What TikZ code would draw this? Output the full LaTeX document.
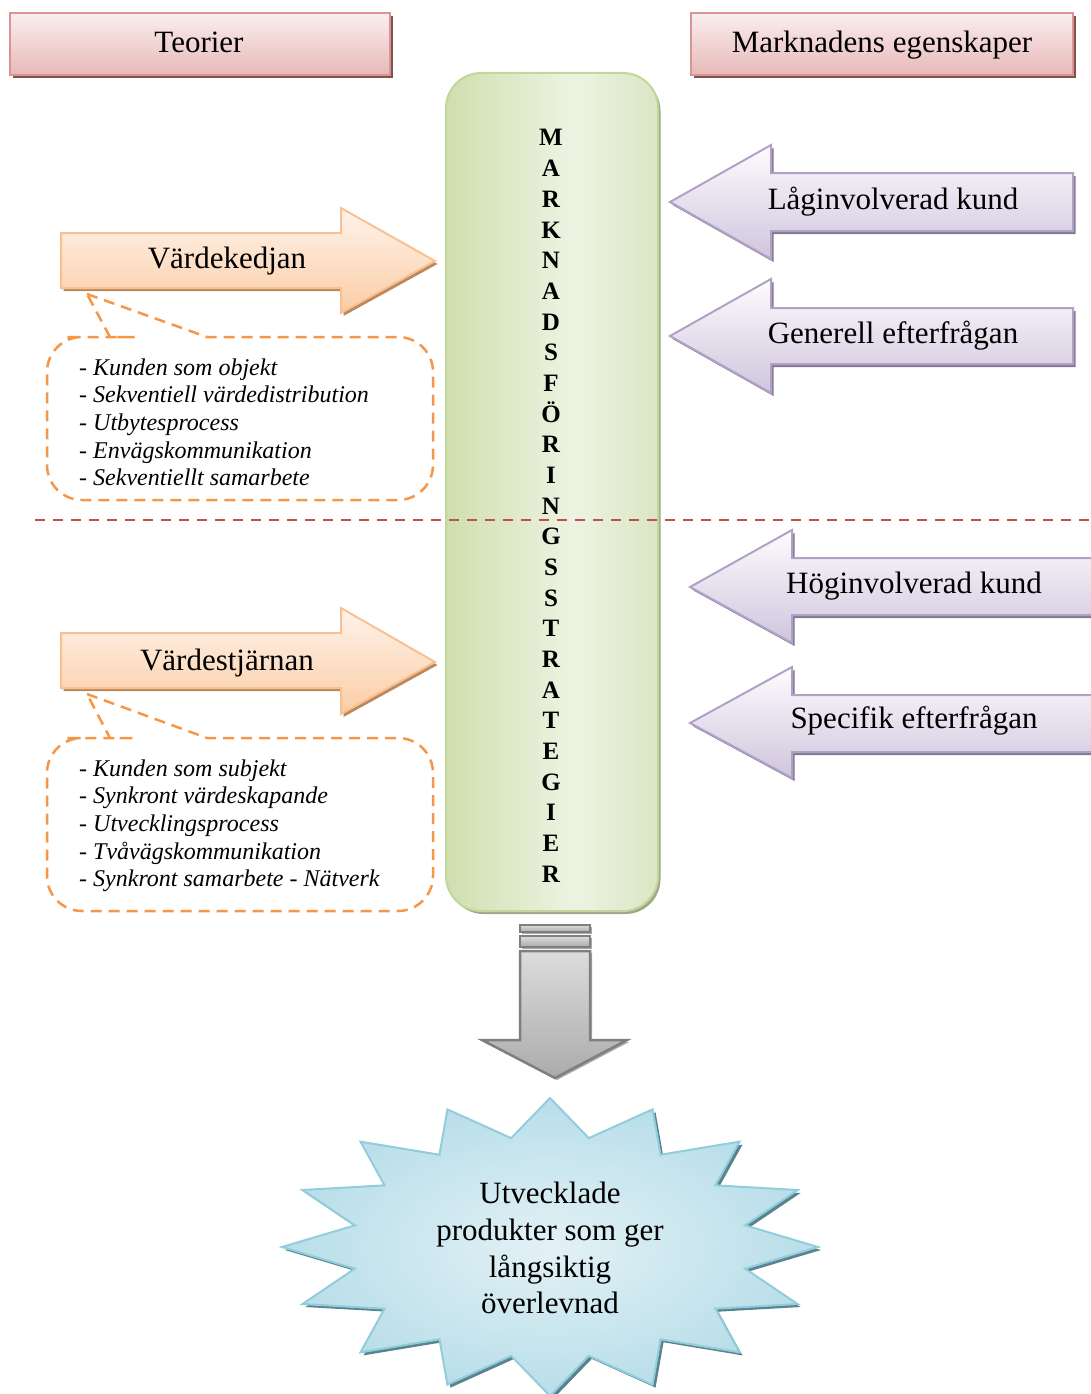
\documentclass[tikz,border=0pt]{standalone}
\usepackage{fontspec}
\setmainfont{Liberation Serif}
\usetikzlibrary{shadows}

\definecolor{pinkline}{HTML}{D99594}
\definecolor{pinktop}{HTML}{FBEEEE}
\definecolor{pinkbot}{HTML}{E6B9B8}
\definecolor{pinkshadow}{HTML}{632523}
\definecolor{orangeline}{HTML}{FAC090}
\definecolor{orangetop}{HTML}{FEF3EA}
\definecolor{orangebot}{HTML}{FBCDA6}
\definecolor{orangeshadow}{HTML}{984807}
\definecolor{purpleline}{HTML}{B2A1C7}
\definecolor{purpletop}{HTML}{FDFCFE}
\definecolor{purplebot}{HTML}{CFC5DD}
\definecolor{purpleshadow}{HTML}{3F3151}
\definecolor{greenline}{HTML}{C3D69B}
\definecolor{greenA}{HTML}{CFDFAF}
\definecolor{greenB}{HTML}{EDF3E2}
\definecolor{greenC}{HTML}{DAE6C3}
\definecolor{greenshadow}{HTML}{4F6228}
\definecolor{dividerred}{HTML}{C0504D}
\definecolor{calloutorange}{HTML}{F79646}
\definecolor{grayline}{HTML}{7F7F7F}
\definecolor{graytop}{HTML}{DCDCDC}
\definecolor{graybot}{HTML}{ABABAB}
\definecolor{grayshadow}{HTML}{404040}
\definecolor{starline}{HTML}{92CDDC}
\definecolor{starinner}{HTML}{E3F1F6}
\definecolor{starouter}{HTML}{B8DEE9}
\definecolor{starshadow}{HTML}{215968}

% left-to-right fill of the strategy column (path spans 25bp..75bp)
\pgfdeclarehorizontalshading{greencolumn}{100bp}{color(0bp)=(greenA); color(25bp)=(greenA); color(55bp)=(greenB); color(75bp)=(greenC); color(100bp)=(greenC)}

\begin{document}
\begin{tikzpicture}[x=1pt,y=-1pt,
  headbox/.style={draw=pinkline, line width=2.5pt, top color=pinktop, bottom color=pinkbot,
    drop shadow={shadow xshift=3pt, shadow yshift=-3pt, fill=pinkshadow, opacity=.8}},
  heading/.style={font=\fontsize{31}{37}\selectfont, inner sep=0pt, anchor=base},
  orangearrow/.style={draw=orangeline, line width=2pt, line join=miter, top color=orangetop, bottom color=orangebot,
    drop shadow={shadow xshift=2.5pt, shadow yshift=-3pt, fill=orangeshadow, opacity=.65}},
  purplearrow/.style={draw=purpleline, line width=2pt, top color=purpletop, bottom color=purplebot,
    drop shadow={shadow xshift=2.5pt, shadow yshift=-3pt, fill=purpleshadow, opacity=.65}},
  column/.style={draw=greenline, line width=2pt, shading=greencolumn,
    drop shadow={shadow xshift=2.5pt, shadow yshift=-3pt, fill=greenshadow, opacity=.55}},
  colletter/.style={font=\fontsize{25}{30}\selectfont\bfseries, inner sep=0pt, anchor=base},
  callout/.style={draw=calloutorange, line width=2.5pt, dash pattern=on 11pt off 7pt},
  listitem/.style={font=\fontsize{24}{28}\selectfont\itshape, inner sep=0pt, anchor=base west},
  divider/.style={draw=dividerred, line width=2.5pt, dash pattern=on 10pt off 8pt},
  grayarrow/.style={draw=grayline, line width=2.5pt, top color=graytop, bottom color=graybot,
    drop shadow={shadow xshift=2pt, shadow yshift=-2pt, fill=grayshadow, opacity=.45}},
  starburst/.style={draw=starline, line width=2pt, inner color=starinner, outer color=starouter,
    drop shadow={shadow xshift=3pt, shadow yshift=-3pt, fill=starshadow, opacity=.75}},
  startext/.style={font=\fontsize{31}{37}\selectfont, inner sep=0pt, anchor=base}
]
\useasboundingbox (0,0) rectangle (1091,1394);

% header boxes
\path[headbox] (10,13) rectangle (390,75);
\node[heading] (teorier) at (199,53) {Teorier};
\path[headbox] (691,13) rectangle (1073,75);
\node[heading] (egenskaper) at (882,53) {Marknadens egenskaper};

% central column with vertical title
\path[column, rounded corners=35pt] (446,73) rectangle (658,911);
\foreach \l [count=\k from 0] in {M,A,R,K,N,A,D,S,F,Ö,R,I,N,G,S,S,T,R,A,T,E,G,I,E,R}
  \node[colletter] (letter\k) at (551,{146+\k*30.67}) {\l};

% dividing line between the two halves
\coordinate (divL) at (35,520);
\coordinate (divR) at (1091,520);
\draw[divider] (divL) -- (divR);

% theory arrows
\path[orangearrow] (61,233) -- (341,233) -- (341,208) -- (435,261) -- (341,313) -- (341,288) -- (61,288) -- cycle;
\node[heading] (vardekedjan) at (227,268) {Värdekedjan};
\path[orangearrow] (61,633) -- (341,633) -- (341,608) -- (435,662) -- (341,714) -- (341,688) -- (61,688) -- cycle;
\node[heading] (vardestjarnan) at (227,670) {Värdestjärnan};

% callouts
\draw[callout] (87,294) -- (207,337) -- (240,337) [rounded corners=35pt] -- (433,337) -- (433,500)
  -- (47,500) -- (47,337) -- (100,337) [sharp corners] -- (110,337) -- cycle;
\node[listitem] (k1) at (79,375) {- Kunden som objekt};
\node[listitem] (k2) at (79,402.7) {- Sekventiell värdedistribution};
\node[listitem] (k3) at (79,430.4) {- Utbytesprocess};
\node[listitem] (k4) at (79,458) {- Envägskommunikation};
\node[listitem] (k5) at (79,485.8) {- Sekventiellt samarbete};

\draw[callout] (87,694) -- (207,738) -- (240,738) [rounded corners=35pt] -- (433,738) -- (433,911)
  -- (47,911) -- (47,738) -- (100,738) [sharp corners] -- (110,738) -- cycle;
\node[listitem] (s1) at (79,776) {- Kunden som subjekt};
\node[listitem] (s2) at (79,803.7) {- Synkront värdeskapande};
\node[listitem] (s3) at (79,831.4) {- Utvecklingsprocess};
\node[listitem] (s4) at (79,859) {- Tvåvägskommunikation};
\node[listitem] (s5) at (79,886.8) {- Synkront samarbete - Nätverk};

% market property arrows
\path[purplearrow] (1073,173) -- (771,173) -- (771,145) -- (670,202) -- (771,259) -- (771,231) -- (1073,231) -- cycle;
\node[heading] (lag) at (893,209) {Låginvolverad kund};
\path[purplearrow] (1073,308) -- (771,308) -- (771,279) -- (670,336) -- (771,393) -- (771,364) -- (1073,364) -- cycle;
\node[heading] (generell) at (893,343) {Generell efterfrågan};
\path[purplearrow] (1100,558) -- (792,558) -- (792,530) -- (690,587) -- (792,643) -- (792,615) -- (1100,615) -- cycle;
\node[heading] (hog) at (914,593) {Höginvolverad kund};
\path[purplearrow] (1100,695) -- (792,695) -- (792,667) -- (690,723) -- (792,778) -- (792,752) -- (1100,752) -- cycle;
\node[heading] (specifik) at (914,728) {Specifik efterfrågan};

% downward result arrow
\path[grayarrow] (520,925) rectangle (590,932);
\path[grayarrow] (520,936) rectangle (590,947);
\path[grayarrow] (520,951) -- (590,951) -- (590,1040) -- (627,1040) -- (555,1078) -- (482,1040) -- (520,1040) -- cycle;

% result starburst
\path[starburst] (818,1247)
  \foreach \a in {0,22.5,...,337.5} {
    -- ({550+199*cos(\a+11.25)},{1247+111*sin(\a+11.25)})
    -- ({550+268*cos(\a+22.5)},{1247+149*sin(\a+22.5)})
  } -- cycle;
\node[startext] (r1) at (550,1203) {Utvecklade};
\node[startext] (r2) at (550,1240) {produkter som ger};
\node[startext] (r3) at (550,1277) {långsiktig};
\node[startext] (r4) at (550,1313) {överlevnad};
\end{tikzpicture}
\end{document}
